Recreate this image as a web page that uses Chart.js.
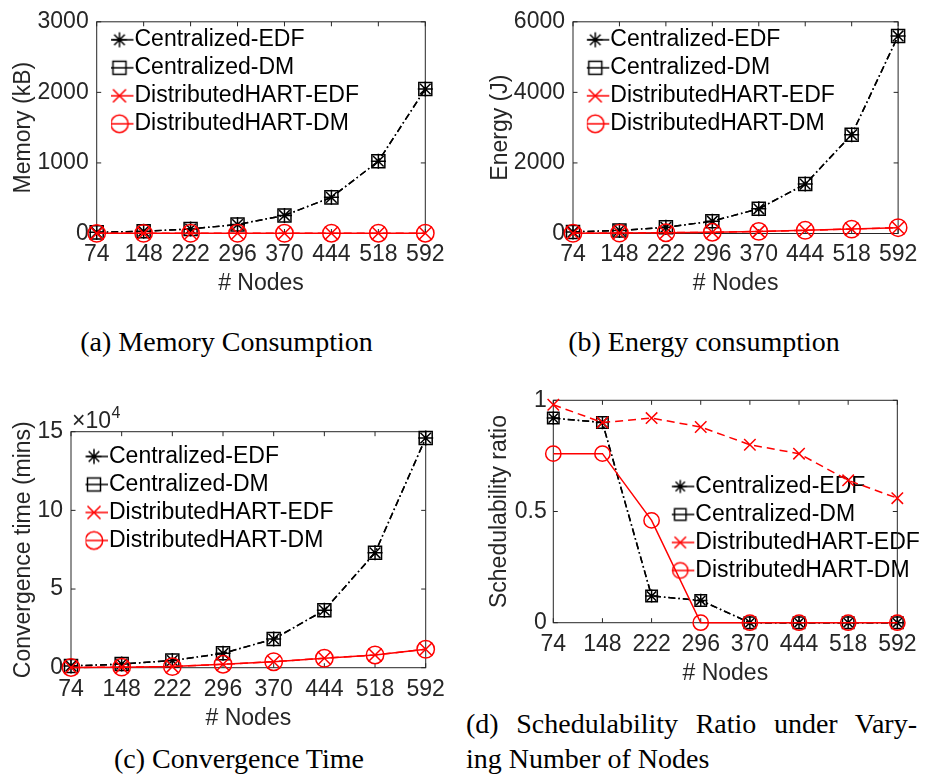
<!DOCTYPE html>
<html>
<head>
<meta charset="utf-8">
<script src="https://cdn.jsdelivr.net/npm/chart.js@4.4.0/dist/chart.umd.min.js"></script>
<style>
html,body{margin:0;padding:0;background:#fff;}
#page{position:relative;width:925px;height:776px;overflow:hidden;background:#fff;}
canvas{position:absolute;}
.cap{position:absolute;font-family:"Liberation Serif","Times New Roman",serif;font-size:28px;line-height:28px;color:#000;white-space:nowrap;}
</style>
</head>
<body>
<div id="page">
  <canvas id="chartA" width="462" height="300" style="left:0;top:0"></canvas>
  <canvas id="chartB" width="463" height="300" style="left:462px;top:0"></canvas>
  <canvas id="chartC" width="462" height="360" style="left:0;top:380px"></canvas>
  <canvas id="chartD" width="463" height="310" style="left:462px;top:380px"></canvas>
  <div class="cap" style="left:0;top:328px;width:453px;text-align:center">(a) Memory Consumption</div>
  <div class="cap" style="left:462px;top:328px;width:484px;text-align:center">(b) Energy consumption</div>
  <div class="cap" style="left:0;top:745px;width:478px;text-align:center">(c) Convergence Time</div>
  <div class="cap" style="left:466px;top:710px;width:451px;text-align:justify;text-align-last:justify">(d) Schedulability Ratio under Vary-</div>
  <div class="cap" style="left:466px;top:745px">ing Number of Nodes</div>
</div>
<script>
// ---------------- data ----------------
const nodeLabels = ['74', '148', '222', '296', '370', '444', '518', '592'];
const seriesNames = ['Centralized-EDF', 'Centralized-DM', 'DistributedHART-EDF', 'DistributedHART-DM'];

const memoryCentralizedEDF = [16, 32, 64, 128, 256, 512, 1024, 2048];
const memoryCentralizedDM  = [16, 32, 64, 128, 256, 512, 1024, 2048];
const memoryDistributedEDF = [2, 2, 3, 3, 3, 4, 4, 4];
const memoryDistributedDM  = [2, 2, 3, 3, 3, 4, 4, 4];
const memoryTicks = [0, 1000, 2000, 3000];
const memoryTickLabels = ['0', '1000', '2000', '3000'];

const energyCentralizedEDF = [44, 88, 175, 350, 700, 1400, 2800, 5600];
const energyCentralizedDM  = [44, 88, 175, 350, 700, 1400, 2800, 5600];
const energyDistributedEDF = [6, 12, 22, 36, 60, 90, 125, 165];
const energyDistributedDM  = [6, 12, 22, 36, 60, 90, 125, 165];
const energyTicks = [0, 2000, 4000, 6000];
const energyTickLabels = ['0', '2000', '4000', '6000'];

const convergenceCentralizedEDF = [1140, 2280, 4560, 9130, 18250, 36500, 73000, 146000];
const convergenceCentralizedDM  = [1140, 2280, 4560, 9130, 18250, 36500, 73000, 146000];
const convergenceDistributedEDF = [150, 350, 700, 2200, 3800, 6000, 8100, 11700];
const convergenceDistributedDM  = [150, 350, 700, 2200, 3800, 6000, 8100, 11700];
const convergenceTicks = [0, 50000, 100000, 150000];
const convergenceTickLabels = ['0', '5', '10', '15'];

const schedCentralizedEDF = [0.92, 0.90, 0.12, 0.10, 0, 0, 0, 0];
const schedCentralizedDM  = [0.92, 0.90, 0.12, 0.10, 0, 0, 0, 0];
const schedDistributedEDF = [0.98, 0.90, 0.92, 0.88, 0.80, 0.76, 0.64, 0.56];
const schedDistributedDM  = [0.76, 0.76, 0.46, 0, 0, 0, 0, 0];
const schedTicks = [0, 0.5, 1];
const schedTickLabels = ['0', '0.5', '1'];

// ---------------- styling ----------------
const FONT = "'Liberation Sans', Arial, Helvetica, sans-serif";
const AXIS_COLOR = '#262626';
const FS = 23;
const LW = 1.5;
const DASH_DOT = [7, 3, 1.5, 3];
const DASHED = [8, 5];

function seriesStyles(k) {
  return [
    { color: '#000000', point: 'star',     radius: 7.5 * k, dash: DASH_DOT },
    { color: '#000000', point: 'rect',     radius: 9.2 * k, dash: DASH_DOT },
    { color: '#ff0000', point: 'crossRot', radius: 9.2 * k, dash: DASHED },
    { color: '#ff0000', point: 'circle',   radius: 8.7 * k, dash: [] }
  ];
}

function drawMarker(g, style, x, y) {
  if (Chart.helpers && Chart.helpers.drawPoint) {
    Chart.helpers.drawPoint(g, { pointStyle: style.point, radius: style.radius, borderWidth: LW, rotation: 0 }, x, y);
  }
}

function legendIcon(style) {
  const c = document.createElement('canvas');
  c.width = 30; c.height = 24;
  const g = c.getContext('2d');
  g.strokeStyle = style.color;
  g.lineWidth = LW;
  g.beginPath(); g.moveTo(1, 12); g.lineTo(29, 12); g.stroke();
  g.fillStyle = 'rgba(0,0,0,0)';
  drawMarker(g, style, 15, 12);
  return c;
}

const boxPlugin = {
  id: 'matlabBox',
  beforeDatasetsDraw(chart) {
    const { ctx, chartArea: a } = chart;
    const x = chart.scales.x, y = chart.scales.y;
    const tl = 4.5;
    ctx.save();
    ctx.strokeStyle = AXIS_COLOR;
    ctx.lineWidth = 1;
    ctx.setLineDash([]);
    ctx.strokeRect(a.left, a.top, a.right - a.left, a.bottom - a.top);
    ctx.beginPath();
    x.ticks.forEach((t, i) => {
      const px = x.getPixelForTick(i);
      ctx.moveTo(px, a.bottom); ctx.lineTo(px, a.bottom - tl);
      ctx.moveTo(px, a.top); ctx.lineTo(px, a.top + tl);
    });
    y.ticks.forEach((t, i) => {
      const py = y.getPixelForTick(i);
      ctx.moveTo(a.left, py); ctx.lineTo(a.left + tl, py);
      ctx.moveTo(a.right, py); ctx.lineTo(a.right - tl, py);
    });
    ctx.stroke();
    ctx.restore();
  }
};

function makeChart(spec) {
  const canvas = document.getElementById(spec.id);
  const W = canvas.width, H = canvas.height;
  const A = spec.area;
  const styles = seriesStyles(spec.markerScale || 1);
  const icons = styles.map(legendIcon);
  const datasets = spec.series.map((data, i) => ({
    label: seriesNames[i],
    data: data,
    borderColor: styles[i].color,
    backgroundColor: 'rgba(0,0,0,0)',
    borderWidth: LW,
    borderDash: styles[i].dash,
    pointStyle: styles[i].point,
    pointRadius: styles[i].radius,
    pointHoverRadius: styles[i].radius,
    pointBorderColor: styles[i].color,
    pointBackgroundColor: 'rgba(0,0,0,0)',
    pointBorderWidth: LW,
    tension: 0,
    fill: false,
    clip: false,
    order: 3 - i
  }));

  const legendPlace = {
    id: 'legendPlace',
    afterLayout(chart) {
      const lg = chart.legend;
      if (!lg) return;
      const pad = 5, bw = 7;
      lg.left = spec.legend.x - bw / 2 - pad;
      lg.top = spec.legend.y - FS / 2 - pad;
      lg.width = 430;
      lg.height = 4 * (FS + pad) + 2 * pad;
      lg.right = lg.left + lg.width;
      lg.bottom = lg.top + lg.height;
    }
  };

  const plugins = [boxPlugin, legendPlace];
  if (spec.extraPlugin) plugins.push(spec.extraPlugin);

  return new Chart(canvas, {
    type: 'line',
    data: { labels: nodeLabels, datasets: datasets },
    plugins: plugins,
    options: {
      responsive: false,
      animation: false,
      devicePixelRatio: 1,
      events: [],
      layout: {
        autoPadding: false,
        padding: { left: 0, top: A.t, right: W - A.r, bottom: 0 }
      },
      plugins: {
        tooltip: { enabled: false },
        title: { display: false },
        legend: {
          display: true,
          position: 'chartArea',
          align: 'start',
          labels: {
            usePointStyle: true,
            pointStyleWidth: 7,
            padding: 5,
            color: '#000000',
            font: { family: FONT, size: FS },
            generateLabels: (chart) => chart.data.datasets.map((ds, i) => ({
              text: ds.label,
              pointStyle: icons[i],
              fillStyle: 'rgba(0,0,0,0)',
              strokeStyle: 'rgba(0,0,0,0)',
              lineWidth: 0,
              hidden: false,
              datasetIndex: i,
              fontColor: '#000000'
            }))
          }
        }
      },
      scales: {
        x: {
          type: 'category',
          offset: false,
          grid: { display: false, drawTicks: false },
          border: { display: false },
          ticks: {
            autoSkip: false, maxRotation: 0, minRotation: 0,
            padding: spec.xTickPad,
            color: AXIS_COLOR,
            font: { family: FONT, size: FS }
          },
          title: {
            display: true, text: '# Nodes', color: AXIS_COLOR,
            font: { family: FONT, size: FS },
            padding: { top: 0, bottom: spec.xTitlePad }
          },
          afterFit(s) { s.height = H - A.b; }
        },
        y: {
          type: 'linear',
          min: spec.ticks[0],
          max: spec.ticks[spec.ticks.length - 1],
          grid: { display: false, drawTicks: false },
          border: { display: false },
          afterBuildTicks(s) { s.ticks = spec.ticks.map(v => ({ value: v })); },
          ticks: {
            padding: spec.yTickPad,
            color: AXIS_COLOR,
            font: { family: FONT, size: FS },
            callback: (v, i) => spec.tickLabels[i]
          },
          title: {
            display: true, text: spec.yTitle, color: AXIS_COLOR,
            font: { family: FONT, size: FS },
            padding: { top: spec.yTitlePad, bottom: 0 }
          },
          afterFit(s) { s.width = A.l; }
        }
      }
    }
  });
}

const exponentPlugin = {
  id: 'exponentLabel',
  afterDraw(chart) {
    const ctx = chart.ctx;
    const a = chart.chartArea;
    ctx.save();
    ctx.fillStyle = AXIS_COLOR;
    ctx.textAlign = 'left';
    ctx.textBaseline = 'alphabetic';
    ctx.font = '23px ' + FONT;
    const base = '\u00d710';
    ctx.fillText(base, a.left + 1, a.top - 4);
    const w = ctx.measureText(base).width;
    ctx.font = '16px ' + FONT;
    ctx.fillText('4', a.left + 1 + w + 0.5, a.top - 14);
    ctx.restore();
  }
};

makeChart({
  id: 'chartA',
  area: { l: 96.7, r: 425.3, t: 15, b: 233.5 },
  series: [memoryCentralizedEDF, memoryCentralizedDM, memoryDistributedEDF, memoryDistributedDM],
  ticks: memoryTicks, tickLabels: memoryTickLabels,
  yTitle: 'Memory (kB)', yTitlePad: 9.5, yTickPad: 8,
  xTickPad: 7.7, xTitlePad: 2.9,
  legend: { x: 119.5, y: 39.8 }
});

makeChart({
  id: 'chartB',
  area: { l: 111, r: 439.7, t: 15, b: 233.5 },
  series: [energyCentralizedEDF, energyCentralizedDM, energyDistributedEDF, energyDistributedDM],
  ticks: energyTicks, tickLabels: energyTickLabels,
  yTitle: 'Energy (J)', yTitlePad: 24.5, yTickPad: 8,
  xTickPad: 7.7, xTitlePad: 2.9,
  legend: { x: 133.3, y: 39.8 }
});

makeChart({
  id: 'chartC',
  area: { l: 71, r: 425.7, t: 51.7, b: 287.7 },
  series: [convergenceCentralizedEDF, convergenceCentralizedDM, convergenceDistributedEDF, convergenceDistributedDM],
  ticks: convergenceTicks, tickLabels: convergenceTickLabels,
  yTitle: 'Convergence time (mins)', yTitlePad: 9.5, yTickPad: 8,
  xTickPad: 8.5, xTitlePad: 7.5,
  legend: { x: 94, y: 76.5 },
  extraPlugin: exponentPlugin
});

makeChart({
  id: 'chartD',
  area: { l: 91.3, r: 440, t: 11.7, b: 242.7 },
  series: [schedCentralizedEDF, schedCentralizedDM, schedDistributedEDF, schedDistributedDM],
  ticks: schedTicks, tickLabels: schedTickLabels,
  yTitle: 'Schedulability ratio', yTitlePad: 24, yTickPad: 6.5,
  xTickPad: 8.5, xTitlePad: 2.9,
  legend: { x: 218.3, y: 106.5 },
  markerScale: 0.88
});
</script>
</body>
</html>
